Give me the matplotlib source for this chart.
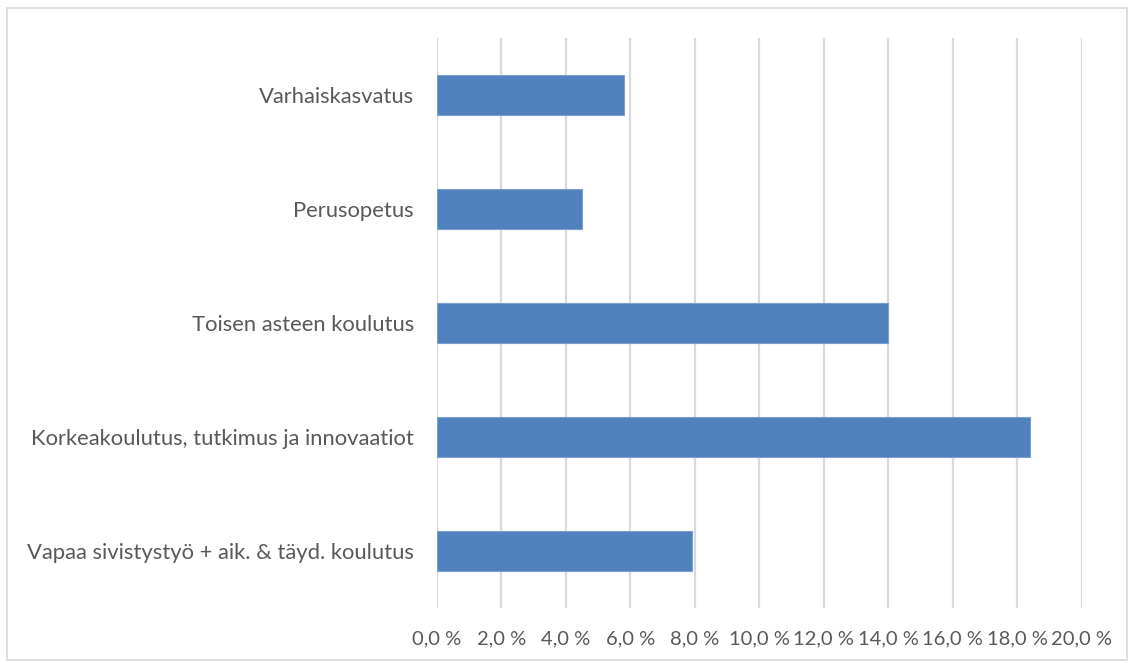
import matplotlib
matplotlib.use("Agg")
import matplotlib.pyplot as plt
from matplotlib.patches import Rectangle

categories = [
    "Varhaiskasvatus",
    "Perusopetus",
    "Toisen asteen koulutus",
    "Korkeakoulutus, tutkimus ja innovaatiot",
    "Vapaa sivistystyö + aik. & täyd. koulutus",
]
values = [5.8, 4.5, 14.0, 18.4, 7.9]
xticks = [0, 2, 4, 6, 8, 10, 12, 14, 16, 18, 20]
xticklabels = ["0,0 %", "2,0 %", "4,0 %", "6,0 %", "8,0 %", "10,0 %", "12,0 %",
               "14,0 %", "16,0 %", "18,0 %", "20,0 %"]

plt.rcParams['font.family'] = ['Lato', 'DejaVu Sans']
text_color = "#595959"

fig = plt.figure(figsize=(11.31, 6.63), dpi=100)
ax = fig.add_axes([437/1131, 1 - 608/663, 644.6/1131, 570/663])

ypos = list(range(len(categories)))
ax.barh(ypos, values, height=0.35, color="#4f81bd", edgecolor="#7ba0cf",
        linewidth=0.8, zorder=3)
ax.set_ylim(len(categories) - 0.5, -0.5)
ax.set_xlim(0, 20)
ax.set_xticks(xticks)
ax.set_xticklabels(xticklabels, fontsize=14.5, color=text_color)
ax.set_yticks(ypos)
ax.set_yticklabels(categories, fontsize=15.8, color=text_color)
ax.tick_params(axis="both", length=0)
ax.tick_params(axis="y", pad=16.5)
ax.tick_params(axis="x", pad=16)
ax.grid(axis="x", color="#d9d9d9", linewidth=1.6, zorder=0)
for s in ax.spines.values():
    s.set_visible(False)

fig.patches.append(Rectangle((7/1131, 1 - 660/663), 1120/1131, 652/663,
                             transform=fig.transFigure, fill=False,
                             edgecolor="#d9d9d9", linewidth=1.2))

fig.savefig("out.png", dpi=100)
